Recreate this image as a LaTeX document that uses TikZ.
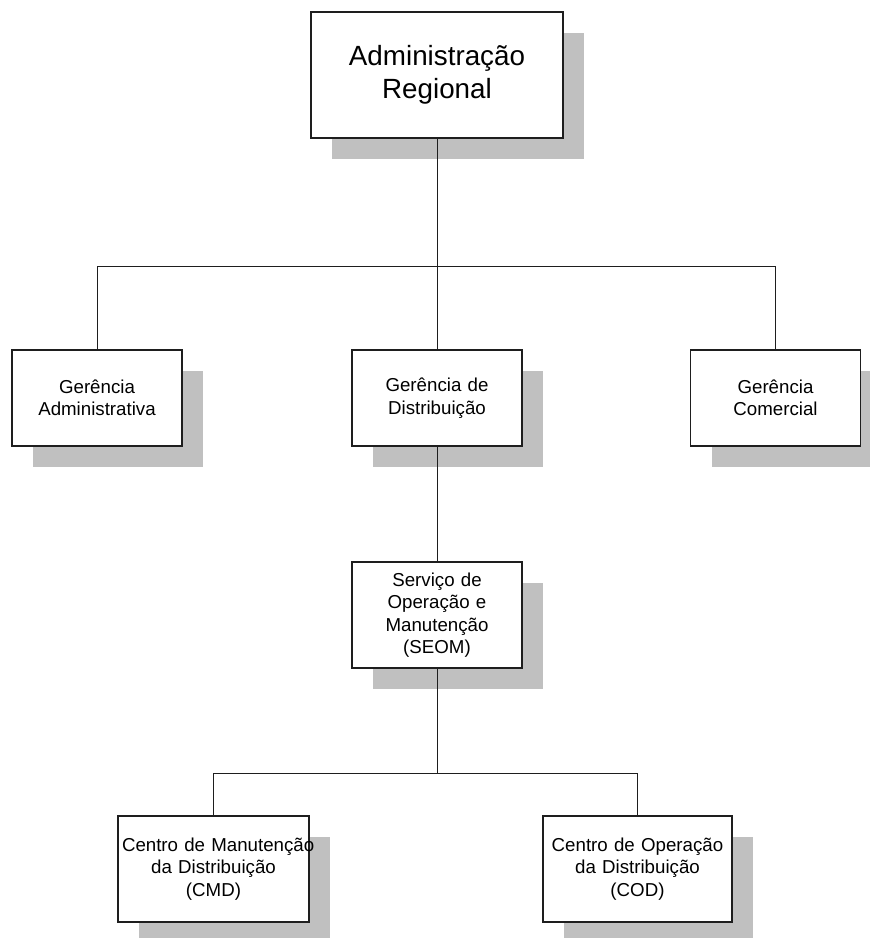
\documentclass[tikz,border=0pt]{standalone}
\usepackage{fontspec}
\setmainfont{Liberation Sans}
\usetikzlibrary{shadows}
\definecolor{shade}{HTML}{C0C0C0}
\definecolor{ink}{HTML}{1E1E1E}
\tikzset{
  unitbox/.style={draw=ink, line width=1.3pt, fill=white, inner sep=4pt,
    align=center,
    general shadow={fill=shade, shadow xshift=21pt, shadow yshift=-21pt},
    font=\fontsize{18.7}{22.5}\selectfont},
  topbox/.style={unitbox, font=\fontsize{27.8}{33}\selectfont},
  link/.style={draw=ink, line width=1pt},
}
\begin{document}
\begin{tikzpicture}[x=1pt,y=-1pt]
\useasboundingbox (0,0) rectangle (870,938);

% units
\node[topbox, minimum width=252pt, minimum height=126pt, text width=244pt]
  (adm) at (437,75) {Administração\\Regional};
\node[unitbox, minimum width=170pt, minimum height=96pt, text width=162pt]
  (gadm) at (97,398) {Gerência\\Administrativa};
\node[unitbox, minimum width=170pt, minimum height=96pt, text width=162pt]
  (gdist) at (437,398) {Gerência de\\Distribuição};
\node[unitbox, minimum width=170pt, minimum height=96pt, text width=162pt]
  (gcom) at (775.5,398) {Gerência\\Comercial};
\node[unitbox, minimum width=170pt, minimum height=106pt, text width=162pt]
  (seom) at (437,615) {Serviço de\\Operação e\\Manutenção\\(SEOM)};
\node[unitbox, minimum width=191pt, minimum height=106pt, text width=183pt]
  (cmd) at (213.5,869) {\mbox{Centro de Manutenção}\\da Distribuição\\(CMD)};
\node[unitbox, minimum width=189pt, minimum height=106pt, text width=181pt]
  (cod) at (637.5,869) {\mbox{Centro de Operação}\\da Distribuição\\(COD)};

% bus coordinates
\coordinate (busA) at (437,266);
\coordinate (busB) at (437,773);

% connectors
\draw[link] (adm.south) -- (busA);
\draw[link] (busA) -| (gadm.north);
\draw[link] (busA) -| (gcom.north);
\draw[link] (busA) -- (gdist.north);
\draw[link] (gdist.south) -- (seom.north);
\draw[link] (seom.south) -- (busB);
\draw[link] (busB) -| (cmd.north);
\draw[link] (busB) -| (cod.north);
\end{tikzpicture}
\end{document}
